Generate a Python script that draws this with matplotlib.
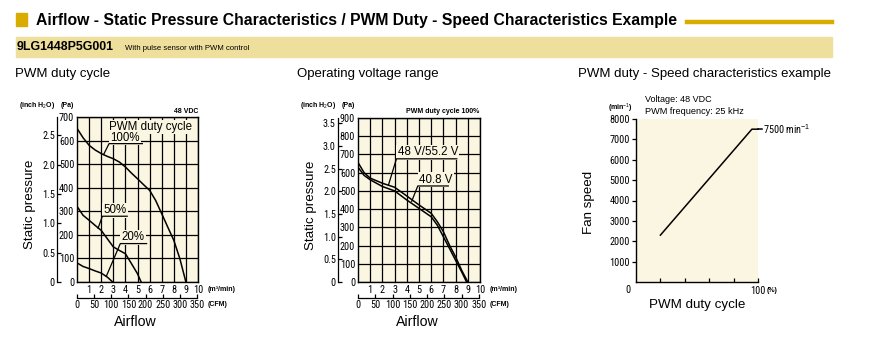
import matplotlib
matplotlib.use("Agg")
import matplotlib.pyplot as plt
from matplotlib import font_manager
from matplotlib.font_manager import FontProperties

W, H = 871, 339
CREAM = "#fbf6e1"
GOLD = "#d8ac00"
BAND = "#efdf9c"
SANS = "Liberation Sans"


def pick_narrow():
    fonts = font_manager.fontManager.ttflist
    for name in ["Liberation Sans Narrow", "Roboto Condensed", "Open Sans Condensed"]:
        if any(f.name == name for f in fonts):
            return dict(family=name), False
    if any(f.name == "DejaVu Sans" and f.stretch == "condensed" for f in fonts):
        return dict(family="DejaVu Sans", stretch="condensed"), False
    return dict(family=SANS), True


NARROW, NO_NARROW = pick_narrow()

plt.rcParams["font.family"] = [SANS, "DejaVu Sans"]
plt.rcParams["mathtext.fontset"] = "custom"
plt.rcParams["mathtext.rm"] = SANS
plt.rcParams["mathtext.it"] = SANS
plt.rcParams["mathtext.bf"] = SANS + ":bold"

PA_PER_INCH = 249.089
CFM_PER_M3 = 35.3147

# PWM duty cycle curves, airflow (m3/min) vs static pressure (Pa)
q_100 = [0, 0.5, 1, 1.5, 2, 2.5, 3, 3.5, 4, 4.5, 5, 5.5, 6, 6.5, 7, 7.5, 8, 8.5, 9]
p_100 = [652, 612, 580, 560, 545, 533, 523, 509, 488, 462, 438, 413, 389, 346, 290, 233, 177, 99, 0]
q_50 = [0, 0.5, 1, 1.5, 2, 2.5, 3, 3.5, 4, 4.5, 5, 5.3]
p_50 = [321, 283, 262, 240, 219, 184, 149, 134, 120, 78, 35, 0]
q_20 = [0, 0.5, 1, 1.5, 2, 2.5, 2.8, 2.95]
p_20 = [81, 66, 57, 47, 38, 21, 7, 0]

# operating voltage range at 100 % duty
q_hi = [0, 0.5, 1, 2, 3, 4, 5, 6, 6.5, 7, 7.5, 8, 8.5, 9]
p_hi = [656, 600, 570, 542, 520, 472, 423, 377, 331, 276, 202, 138, 64, 0]
q_lo = [0, 0.5, 1, 2, 3, 4, 5, 6, 6.5, 7, 7.5, 8, 8.5, 8.9]
p_lo = [630, 585, 561, 524, 500, 450, 404, 358, 312, 248, 184, 119, 55, 0]

# duty vs speed
duty = [20, 95, 100]
speed = [2300, 7500, 7500]

pa_ticks_left = [0, 100, 200, 300, 400, 500, 600, 700]
pa_ticks_mid = [0, 100, 200, 300, 400, 500, 600, 700, 800, 900]
inch_ticks_left = [0, 0.5, 1.0, 1.5, 2.0, 2.5]
inch_ticks_mid = [0, 0.5, 1.0, 1.5, 2.0, 2.5, 3.0, 3.5]
flow_ticks = [1, 2, 3, 4, 5, 6, 7, 8, 9, 10]
cfm_ticks = [0, 50, 100, 150, 200, 250, 300, 350]
rpm_ticks = [1000, 2000, 3000, 4000, 5000, 6000, 7000, 8000]
duty_ticks = [20, 40, 60, 80, 100]

TICK_FS = 6.3 if NO_NARROW else 7.4
UNIT_FS = 5.0
LABEL_FS = 9.6


def nf(size, weight="normal"):
    return FontProperties(size=size, weight=weight, **NARROW)


fig = plt.figure(figsize=(W / 100, H / 100), dpi=100)


def box(x0, y0, x1, y1):
    return [x0 / W, 1 - y1 / H, (x1 - x0) / W, (y1 - y0) / H]


def ftext(x, y, s, **kw):
    kw.setdefault("va", "center")
    fig.text(x / W, 1 - y / H, s, **kw)


def unit(x, y, s, **kw):
    ftext(x, y, s, fontsize=UNIT_FS, fontweight="bold", **kw)


def narrow_labels(labels, size):
    for lab in labels:
        lab.set_fontproperties(nf(size))


# header
fig.patches.append(plt.Rectangle((16 / W, 1 - 26 / H), 11 / W, 13 / H,
                                 transform=fig.transFigure, color=GOLD))
ftext(36, 20, "Airflow - Static Pressure Characteristics / PWM Duty - Speed Characteristics Example",
      fontsize=11.3, fontweight="bold")
fig.add_artist(plt.Line2D([687 / W, 832 / W], [1 - 21.5 / H, 1 - 21.5 / H],
                          transform=fig.transFigure, color=GOLD, lw=3.2))
fig.patches.append(plt.Rectangle((16 / W, 1 - 57 / H), 816 / W, 20 / H,
                                 transform=fig.transFigure, color=BAND))
ftext(17, 47.5, "9LG1448P5G001", fontsize=8.9, fontweight="bold")
ftext(125, 48, "With pulse sensor with PWM control", fontsize=5.6)

ftext(15, 74, "PWM duty cycle", fontsize=9.5)
ftext(297, 74, "Operating voltage range", fontsize=9.5)
ftext(578, 74, "PWM duty - Speed characteristics example", fontsize=9.5)


def pq_axes(rect, pa_max, pa_ticks, inch_ticks, inch_x, top_note, top_note_x):
    ax = fig.add_axes(box(*rect))
    ax.set_facecolor(CREAM)
    ax.set_xlim(0, 10)
    ax.set_ylim(0, pa_max)
    ax.set_xticks(flow_ticks)
    ax.set_yticks(pa_ticks)
    ax.tick_params(length=0, pad=2.0)
    narrow_labels(ax.get_xticklabels() + ax.get_yticklabels(), TICK_FS)
    ax.grid(True, color="black", lw=0.9)
    ax.set_axisbelow(True)
    for sp in ax.spines.values():
        sp.set_linewidth(1.0)

    x0, y0, x1, y1 = rect
    wpx, hpx = x1 - x0, y1 - y0

    inch = ax.secondary_yaxis((inch_x - x0) / wpx,
                              functions=(lambda p: p / PA_PER_INCH, lambda i: i * PA_PER_INCH))
    inch.set_yticks(inch_ticks, labels=[f"{v:.1f}" if v else "0" for v in inch_ticks])
    inch.tick_params(direction="in", length=3, width=0.9, pad=1.5)
    narrow_labels(inch.get_yticklabels(), TICK_FS)
    inch.spines["left"].set_linewidth(0.9)

    cfm = ax.secondary_xaxis(-16 / hpx,
                             functions=(lambda q: q * CFM_PER_M3, lambda c: c / CFM_PER_M3))
    cfm.set_xticks(cfm_ticks)
    cfm.tick_params(direction="in", length=3, width=0.9, pad=1.5)
    narrow_labels(cfm.get_xticklabels(), TICK_FS)
    cfm.spines["bottom"].set_bounds(0, 350)
    cfm.spines["bottom"].set_linewidth(0.9)

    unit(inch_x - 2, 105.5, "(inch H$_2$O)", ha="right")
    unit(inch_x + 4, 105.5, "(Pa)")
    unit(top_note_x, 111, top_note, ha="right")
    unit(x1 + 10, 289.5, "(m³/min)")
    unit(x1 + 10, 304, "(CFM)")
    ftext((x0 + x1) / 2 - 2, 322, "Airflow", fontsize=10.2, ha="center")
    ftext(inch_x - 27, (y0 + y1) / 2 + 5, "Static pressure", fontsize=LABEL_FS,
          rotation=90, ha="center")
    return ax


def callout(ax, text, tx, ty, ux1, uy, px, py):
    ax.text(tx, ty, text, fontsize=8.3, va="center", ha="left",
            bbox=dict(boxstyle="square,pad=0.12", fc=CREAM, ec="none"), zorder=4)
    ax.plot([px, tx - 0.1, ux1], [py, uy, uy], color="black", lw=0.9, zorder=5)


# left chart: PWM duty cycle
ax1 = pq_axes((77, 117, 198, 282), 700, pa_ticks_left, inch_ticks_left, 57, "48 VDC", 198)
ax1.plot(q_100, p_100, color="black", lw=1.1, zorder=3)
ax1.plot(q_50, p_50, color="black", lw=1.1, zorder=3)
ax1.plot(q_20, p_20, color="black", lw=1.1, zorder=3)
ax1.text(2.65, 658, "PWM duty cycle", fontsize=8.3, va="center",
         bbox=dict(boxstyle="square,pad=0.12", fc=CREAM, ec="none"), zorder=4)
callout(ax1, "100%", 2.75, 612, 5.4, 587, 2.2, 541)
callout(ax1, "50%", 2.2, 304, 4.15, 279, 1.74, 228)
callout(ax1, "20%", 3.68, 190, 5.75, 163, 2.42, 24)

# middle chart: operating voltage range
ax2 = pq_axes((358, 118, 480, 282), 900, pa_ticks_mid, inch_ticks_mid, 338,
              "PWM duty cycle 100%", 479)
ax2.plot(q_hi, p_hi, color="black", lw=1.1, zorder=3)
ax2.plot(q_lo, p_lo, color="black", lw=1.1, zorder=3)
callout(ax2, "48 V/55.2 V", 3.25, 712, 8.1, 676, 2.5, 533)
callout(ax2, "40.8 V", 5.0, 562, 7.4, 527, 4.4, 443)

# right chart: duty vs speed
ax3 = fig.add_axes(box(636, 119, 758, 282))
ax3.set_facecolor(CREAM)
ax3.set_xlim(0, 100)
ax3.set_ylim(0, 8000)
ax3.spines[["top", "right"]].set_visible(False)
ax3.spines[["left", "bottom"]].set_linewidth(1.0)
ax3.set_yticks(rpm_ticks)
ax3.set_xticks(duty_ticks, labels=["", "", "", "", "100"])
ax3.tick_params(axis="y", direction="out", length=3, width=0.9, pad=1.5)
ax3.tick_params(axis="x", direction="in", length=3, width=0.9, pad=3)
narrow_labels(ax3.get_xticklabels() + ax3.get_yticklabels(), TICK_FS)
ax3.plot(duty, speed, color="black", lw=1.1, clip_on=False)
ax3.plot([duty[-1], duty[-1] + 3], [speed[-1], speed[-1]], color="black", lw=1.1, clip_on=False)
ax3.text(duty[-1] + 4, speed[-1], "7500 min$^{-1}$", fontproperties=nf(TICK_FS),
         va="center", ha="left")

ftext(628, 290, "0", fontproperties=nf(TICK_FS), ha="center")
unit(767, 290.5, "(%)")
unit(633, 108, "(min$^{-1}$)", ha="right")
ftext(645, 100, "Voltage: 48 VDC", fontsize=6.5)
ftext(645, 112, "PWM frequency: 25 kHz", fontsize=6.6)
ftext(697, 305, "PWM duty cycle", fontsize=LABEL_FS, ha="center")
ftext(589, 202, "Fan speed", fontsize=LABEL_FS, rotation=90, ha="center")

fig.savefig("out.png", dpi=100)
